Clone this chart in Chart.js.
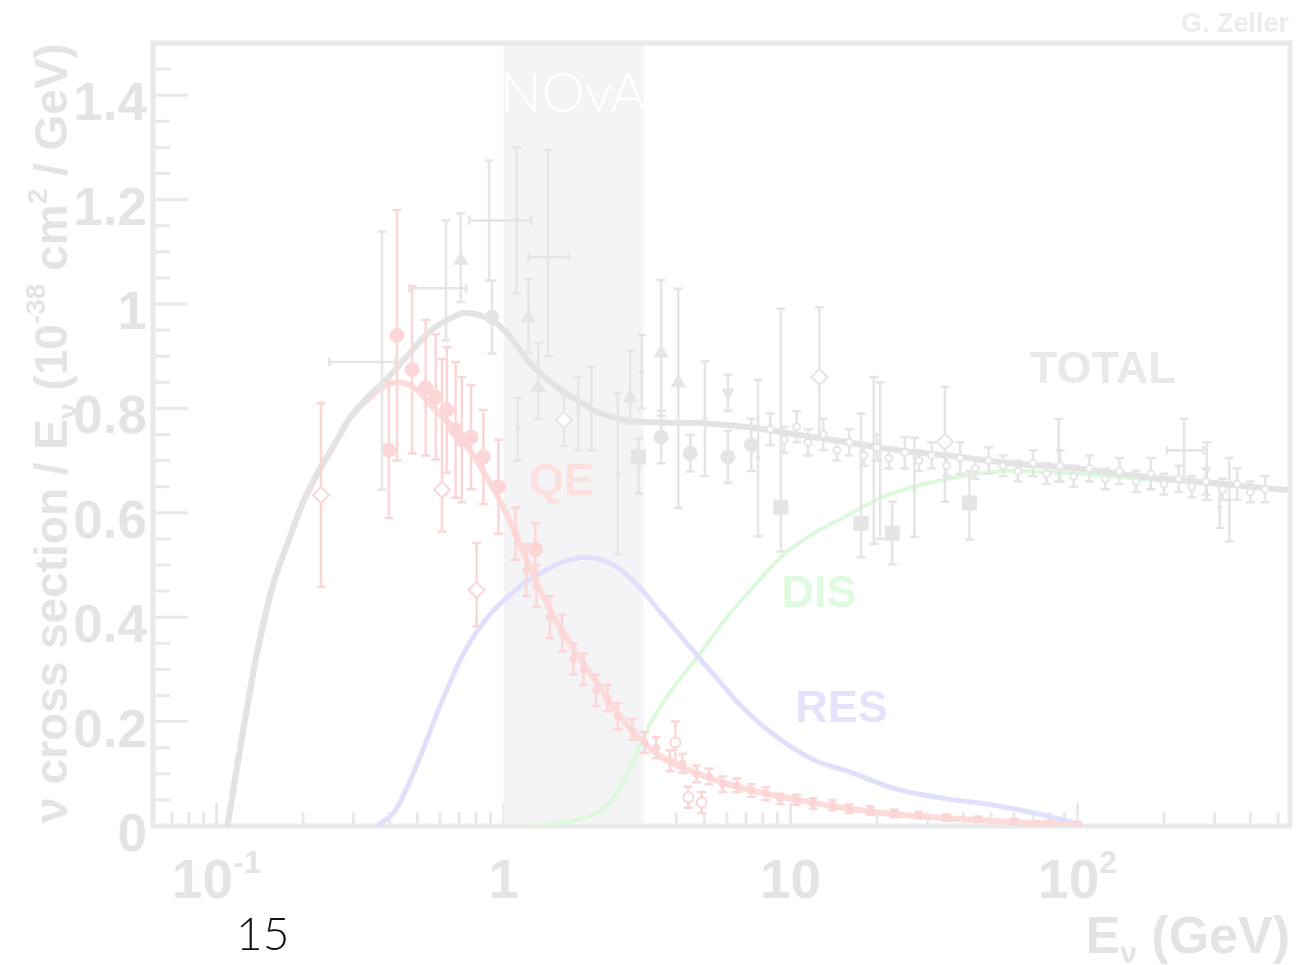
<!DOCTYPE html>
<html>
<head>
<meta charset="utf-8">
<script src="https://cdn.jsdelivr.net/npm/chart.js@4/dist/chart.umd.min.js"></script>
<style>
  html, body { margin: 0; padding: 0; background: #ffffff; }
  canvas { display: block; }
</style>
</head>
<body>
<canvas id="xsec" width="1301" height="965"></canvas>
<script>
// ---- Theory curves: sigma / E (1e-38 cm^2 / GeV) versus neutrino energy E (GeV)
const totalE = [0.109, 0.12, 0.137, 0.155, 0.179, 0.2, 0.227, 0.26, 0.29, 0.34, 0.39, 0.46, 0.56, 0.65, 0.74, 0.84, 0.96, 1.08, 1.22, 1.4, 1.64, 1.9, 2.14, 2.5, 2.78, 3.5, 4.76, 6, 8.1, 10, 13.8, 18, 23.6, 35, 58, 100, 170, 300, 540];
const totalV = [0, 0.14, 0.32, 0.45, 0.55, 0.62, 0.68, 0.735, 0.78, 0.825, 0.855, 0.90, 0.95, 0.972, 0.983, 0.977, 0.96, 0.93, 0.89, 0.858, 0.83, 0.808, 0.792, 0.781, 0.776, 0.773, 0.772, 0.768, 0.76, 0.752, 0.74, 0.73, 0.72, 0.71, 0.695, 0.685, 0.669, 0.657, 0.643];

const qeE = [0.109, 0.12, 0.137, 0.155, 0.179, 0.2, 0.227, 0.26, 0.29, 0.34, 0.39, 0.43, 0.5, 0.56, 0.65, 0.74, 0.87, 1.02, 1.19, 1.32, 1.5, 1.8, 2.14, 2.5, 2.95, 3.6, 4.76, 6.5, 10.6, 16, 23.6, 40, 70, 100];
const qeV = [0, 0.14, 0.32, 0.45, 0.55, 0.62, 0.68, 0.735, 0.78, 0.82, 0.845, 0.85, 0.835, 0.805, 0.77, 0.73, 0.67, 0.60, 0.515, 0.46, 0.40, 0.33, 0.27, 0.215, 0.17, 0.13, 0.10, 0.075, 0.05, 0.033, 0.022, 0.013, 0.006, 0.002];

const resE = [0.36, 0.42, 0.506, 0.6, 0.715, 0.85, 1.1, 1.4, 1.65, 1.93, 2.25, 2.57, 3.0, 3.54, 4.2, 4.87, 5.6, 6.56, 8.5, 12.1, 15.8, 23.6, 35, 45.6, 60, 80, 100];
const resV = [0, 0.03, 0.126, 0.23, 0.324, 0.39, 0.452, 0.49, 0.508, 0.515, 0.508, 0.49, 0.455, 0.408, 0.36, 0.318, 0.28, 0.236, 0.18, 0.126, 0.105, 0.07, 0.052, 0.044, 0.033, 0.018, 0.005];

const disE = [1.2, 1.5, 2.0, 2.3, 2.7, 3.2, 3.9, 4.65, 6, 7.1, 9.25, 12, 15.8, 20, 26, 34, 58, 100, 200, 540];
const disV = [0, 0.004, 0.02, 0.04, 0.1, 0.19, 0.265, 0.318, 0.40, 0.446, 0.515, 0.56, 0.595, 0.625, 0.648, 0.663, 0.68, 0.675, 0.662, 0.643];

// ---- Quasi-elastic measurements
const qeCircE = [0.398, 0.425, 0.48, 0.535, 0.58, 0.634, 0.68, 0.715, 0.77, 0.85, 0.96, 1.29];
const qeCircV = [0.72, 0.94, 0.874, 0.84, 0.822, 0.797, 0.759, 0.74, 0.745, 0.707, 0.65, 0.53];
const qeCircErr = [0.13, 0.24, 0.16, 0.13, 0.12, 0.12, 0.13, 0.12, 0.1, 0.09, 0.09, 0.05];

const qeDiaE = [0.231, 0.61, 0.805];
const qeDiaV = [0.634, 0.644, 0.452];
const qeDiaLo = [0.176, 0.08, 0.07];
const qeDiaHi = [0.176, 0.25, 0.09];

const qeSmallE = [1.1, 1.2, 1.3, 1.45, 1.6, 1.75, 1.9, 2.1, 2.3, 2.5, 2.8, 3.1, 3.4, 3.8, 4.2, 4.7, 5.2, 5.8, 6.5, 7.3, 8.2, 9.2, 10.5, 12, 14, 16, 19, 23, 28, 35, 45, 60, 80, 100];
const qeSmallV = [0.56, 0.49, 0.46, 0.40, 0.37, 0.32, 0.30, 0.26, 0.245, 0.21, 0.185, 0.16, 0.15, 0.125, 0.12, 0.10, 0.095, 0.08, 0.078, 0.068, 0.062, 0.052, 0.05, 0.043, 0.04, 0.033, 0.03, 0.024, 0.021, 0.016, 0.013, 0.009, 0.006, 0.003];
const qeSmallErr = [0.05, 0.05, 0.04, 0.04, 0.035, 0.03, 0.03, 0.03, 0.025, 0.025, 0.02, 0.02, 0.02, 0.02, 0.018, 0.016, 0.015, 0.015, 0.013, 0.012, 0.012, 0.01, 0.01, 0.01, 0.01, 0.008, 0.008, 0.007, 0.006, 0.006, 0.005, 0.005, 0.004, 0.004];

const qeOpenE = [3.97, 4.4, 4.9];
const qeOpenV = [0.16, 0.055, 0.045];
const qeOpenErr = [0.04, 0.02, 0.02];

// ---- Inclusive (total) measurements
const grayTriE = [0.709, 1.22, 1.32, 2.76, 3.54, 4.06];
const grayTriV = [1.084, 0.973, 0.84, 0.82, 0.906, 0.849];
const grayTriLo = [0.08, 0.065, 0.06, 0.05, 0.12, 0.24];
const grayTriHi = [0.09, 0.075, 0.085, 0.09, 0.14, 0.18];

const grayTriDownE = [6.05];
const grayTriDownV = [0.83];
const grayTriDownErr = [0.035];

const grayDotE = [0.91, 3.54, 4.47, 6.05, 7.3];
const grayDotV = [0.975, 0.745, 0.714, 0.707, 0.73];
const grayDotErr = [0.07, 0.05, 0.035, 0.05, 0.05];

const graySqE = [2.95, 9.25, 17.6, 22.6, 42];
const graySqV = [0.707, 0.611, 0.58, 0.561, 0.619];
const graySqLo = [0.07, 0.085, 0.065, 0.06, 0.07];
const graySqHi = [0.035, 0.38, 0.21, 0.06, 0.06];

const grayDiaE = [1.62, 12.6, 34.5];
const grayDiaV = [0.778, 0.86, 0.736];
const grayDiaLo = [0.05, 0.12, 0.115];
const grayDiaHi = [0.05, 0.134, 0.105];

const grayCrossE = [0.377, 0.63, 0.89, 1.43, 235];
const grayCrossV = [0.889, 1.03, 1.16, 1.09, 0.72];
const grayCrossLo = [0.245, 0.10, 0.115, 0.19, 0.06];
const grayCrossHi = [0.25, 0.13, 0.115, 0.205, 0.06];
const grayCrossELo = [0.247, 0.47, 0.76, 1.22, 205];
const grayCrossEHi = [0.42, 0.74, 1.25, 1.68, 275];

const grayBarE = [1.11, 1.12, 1.82, 2.02, 2.5, 3.03, 5.03, 7.7, 19.5, 20.5, 27, 86, 282, 313, 338];
const grayBarV = [1.16, 0.76, 0.79, 0.80, 0.675, 0.87, 0.78, 0.705, 0.70, 0.70, 0.644, 0.72, 0.68, 0.611, 0.625];
const grayBarLo = [0.14, 0.06, 0.07, 0.08, 0.155, 0.07, 0.11, 0.15, 0.16, 0.15, 0.09, 0.06, 0.055, 0.04, 0.08];
const grayBarHi = [0.14, 0.06, 0.07, 0.08, 0.155, 0.07, 0.11, 0.15, 0.16, 0.15, 0.1, 0.06, 0.055, 0.04, 0.08];

const grayDenseE = [8.5, 9.5, 10.5, 11.5, 13, 14.5, 16, 18, 20, 22, 25, 28, 31, 35, 39, 44, 49, 55, 62, 70, 78, 87, 97, 110, 125, 140, 160, 180, 200, 225, 250, 280, 320, 360, 400, 450];
const grayDenseV = [0.76, 0.74, 0.765, 0.735, 0.75, 0.72, 0.735, 0.71, 0.725, 0.705, 0.715, 0.70, 0.71, 0.69, 0.705, 0.685, 0.70, 0.69, 0.68, 0.695, 0.675, 0.69, 0.67, 0.685, 0.665, 0.68, 0.66, 0.675, 0.655, 0.665, 0.65, 0.66, 0.645, 0.655, 0.64, 0.645];
const grayDenseErr = [0.03, 0.025, 0.03, 0.025, 0.03, 0.02, 0.025, 0.02, 0.025, 0.02, 0.03, 0.02, 0.025, 0.02, 0.03, 0.02, 0.025, 0.02, 0.02, 0.025, 0.02, 0.03, 0.02, 0.025, 0.02, 0.025, 0.02, 0.03, 0.02, 0.025, 0.02, 0.025, 0.02, 0.03, 0.02, 0.025];

// ---- Axes
const yTicks = [0, 0.2, 0.4, 0.6, 0.8, 1, 1.2, 1.4];
const yTickLabels = ['0', '0.2', '0.4', '0.6', '0.8', '1', '1.2', '1.4'];
const xTicks = [0.1, 1, 10, 100];
const xTickBase = ['10', '1', '10', '10'];
const xTickExp = ['-1', '', '', '2'];
const novaRange = [1, 3];

// ---- Styling
const FRAME = '#e9e9e9';
const LABEL = '#e4e4e4';
const GRAY_LINE = '#e3e3e3';
const GRAY_PT = '#e5e5e5';
const RED_LINE = '#fcdbdb';
const RED_PT = '#fcd6d6';
const BLUE_LINE = '#e0e0fc';
const GREEN_LINE = '#dcf9dc';
const SANS = '"Liberation Sans", Arial, Helvetica, sans-serif';

function pts(E, V) { return E.map((e, i) => ({ x: e, y: V[i] })); }

function measurement(E, V, lo, hi, o) {
  return {
    data: pts(E, V),
    showLine: false,
    pointStyle: o.style || 'circle',
    pointRadius: o.r === undefined ? 6 : o.r,
    pointHoverRadius: o.r === undefined ? 6 : o.r,
    pointRotation: o.rot || 0,
    pointBackgroundColor: o.open ? '#ffffff' : o.color,
    pointBorderColor: o.color,
    pointBorderWidth: o.open ? 2 : 1,
    errLo: lo, errHi: hi, errELo: o.elo, errEHi: o.ehi,
    errColor: o.color
  };
}

function curve(E, V, color, width) {
  return {
    data: pts(E, V),
    showLine: true,
    borderColor: color,
    borderWidth: width,
    pointRadius: 0,
    pointHoverRadius: 0,
    cubicInterpolationMode: 'monotone',
    fill: false
  };
}

const datasets = [
  measurement(grayDenseE, grayDenseV, grayDenseErr, grayDenseErr, { color: GRAY_PT, r: 3.5, open: true }),
  measurement(grayTriE, grayTriV, grayTriLo, grayTriHi, { color: GRAY_PT, style: 'triangle', r: 8 }),
  measurement(grayTriDownE, grayTriDownV, grayTriDownErr, grayTriDownErr, { color: GRAY_PT, style: 'triangle', r: 7, rot: 180 }),
  measurement(grayDotE, grayDotV, grayDotErr, grayDotErr, { color: GRAY_PT, r: 7 }),
  measurement(graySqE, graySqV, graySqLo, graySqHi, { color: GRAY_PT, style: 'rect', r: 10 }),
  measurement(grayDiaE, grayDiaV, grayDiaLo, grayDiaHi, { color: GRAY_PT, style: 'rectRot', r: 8, open: true }),
  measurement(grayCrossE, grayCrossV, grayCrossLo, grayCrossHi, { color: GRAY_PT, r: 0, elo: grayCrossELo, ehi: grayCrossEHi }),
  measurement(grayBarE, grayBarV, grayBarLo, grayBarHi, { color: GRAY_PT, r: 2 }),
  measurement(qeSmallE, qeSmallV, qeSmallErr, qeSmallErr, { color: RED_PT, r: 3.5 }),
  measurement(qeOpenE, qeOpenV, qeOpenErr, qeOpenErr, { color: RED_PT, r: 5, open: true }),
  measurement(qeCircE, qeCircV, qeCircErr, qeCircErr, { color: RED_PT, r: 7 }),
  measurement(qeDiaE, qeDiaV, qeDiaLo, qeDiaHi, { color: RED_PT, style: 'rectRot', r: 8, open: true }),
  curve(totalE, totalV, GRAY_LINE, 6),
  curve(qeE, qeV, RED_LINE, 6),
  curve(resE, resV, BLUE_LINE, 5),
  curve(disE, disV, GREEN_LINE, 4)
];

// Vertical (and horizontal) error bars, painted beneath each dataset's markers
const errorBars = {
  id: 'errorBars',
  beforeDatasetDraw(chart, args) {
    const ds = chart.data.datasets[args.index];
    if (!ds.errLo) return;
    const { ctx, chartArea: a, scales: { x, y } } = chart;
    ctx.save();
    ctx.beginPath();
    ctx.rect(a.left, a.top, a.right - a.left, a.bottom - a.top);
    ctx.clip();
    ctx.strokeStyle = ds.errColor;
    ctx.lineWidth = 2.5;
    const cap = 4.5;
    ds.data.forEach((p, i) => {
      const px = x.getPixelForValue(p.x);
      const py = y.getPixelForValue(p.y);
      const top = y.getPixelForValue(p.y + ds.errHi[i]);
      const bot = y.getPixelForValue(p.y - ds.errLo[i]);
      ctx.beginPath();
      ctx.moveTo(px, top); ctx.lineTo(px, bot);
      ctx.moveTo(px - cap, top); ctx.lineTo(px + cap, top);
      ctx.moveTo(px - cap, bot); ctx.lineTo(px + cap, bot);
      if (ds.errELo) {
        const l = x.getPixelForValue(ds.errELo[i]);
        const r = x.getPixelForValue(ds.errEHi[i]);
        ctx.moveTo(l, py); ctx.lineTo(r, py);
        ctx.moveTo(l, py - cap); ctx.lineTo(l, py + cap);
        ctx.moveTo(r, py - cap); ctx.lineTo(r, py + cap);
      }
      ctx.stroke();
    });
    ctx.restore();
  }
};

function drawRich(ctx, parts, x0, y0, align) {
  let w = 0;
  parts.forEach(p => { ctx.font = p.f; p.w = ctx.measureText(p.t).width; w += p.w; });
  let cx = align === 'center' ? x0 - w / 2 : align === 'right' ? x0 - w : x0;
  ctx.textAlign = 'left';
  ctx.textBaseline = 'alphabetic';
  parts.forEach(p => { ctx.font = p.f; ctx.fillText(p.t, cx, y0 + (p.dy || 0)); cx += p.w; });
}

// Frame, inward ticks, the NOvA energy band and all axis text
const frameAxes = {
  id: 'frameAxes',
  beforeDatasetsDraw(chart) {
    const { ctx, chartArea: a, scales: { x, y } } = chart;
    ctx.save();
    ctx.strokeStyle = FRAME;
    ctx.lineWidth = 3;

    // y ticks: minor every 0.05, major every 0.2
    for (let k = 0; k * 0.05 < y.max; k++) {
      const py = y.getPixelForValue(k * 0.05);
      const len = k % 4 === 0 ? 35 : 17;
      ctx.beginPath(); ctx.moveTo(a.left, py); ctx.lineTo(a.left + len, py); ctx.stroke();
    }
    // x ticks: decades and their 2..9 multiples
    [0.01, 0.1, 1, 10, 100].forEach(d => {
      for (let m = 1; m <= 9; m++) {
        const v = d * m;
        if (v <= x.min || v >= x.max) continue;
        const px = x.getPixelForValue(v);
        const len = m === 1 ? 23 : 14;
        ctx.beginPath(); ctx.moveTo(px, a.bottom); ctx.lineTo(px, a.bottom - len); ctx.stroke();
      }
    });

    // NOvA band
    const b0 = x.getPixelForValue(novaRange[0]);
    const b1 = x.getPixelForValue(novaRange[1]);
    ctx.fillStyle = '#f4f4f6';
    ctx.fillRect(b0, a.top + 2, b1 - b0 + 3, a.bottom - a.top - 5);

    // frame
    ctx.lineWidth = 5;
    ctx.strokeRect(a.left, a.top, a.right - a.left, a.bottom - a.top);

    // band title
    ctx.fillStyle = '#ffffff';
    ctx.font = '300 55px Lato, "Open Sans", sans-serif';
    ctx.textAlign = 'center';
    ctx.textBaseline = 'alphabetic';
    const nx = x.getPixelForValue(Math.sqrt(novaRange[0] * novaRange[1]));
    ctx.fillText('NOvA', nx + 1, y.getPixelForValue(1.368));

    // y tick labels
    ctx.fillStyle = LABEL;
    ctx.font = 'bold 53px ' + SANS;
    ctx.textAlign = 'right';
    yTicks.forEach((v, i) => ctx.fillText(yTickLabels[i], a.left - 6, y.getPixelForValue(v) + 25));

    // x tick labels (powers of ten)
    xTicks.forEach((v, i) => {
      const parts = [{ t: xTickBase[i], f: 'bold 55px ' + SANS }];
      if (xTickExp[i]) parts.push({ t: xTickExp[i], f: 'bold 32px ' + SANS, dy: -25 });
      drawRich(ctx, parts, x.getPixelForValue(v), a.bottom + 72, 'center');
    });

    // x title
    drawRich(ctx, [
      { t: 'E', f: 'bold 52px ' + SANS },
      { t: 'ν', f: 'bold 30px ' + SANS, dy: 10 },
      { t: ' (GeV)', f: 'bold 52px ' + SANS }
    ], a.right, 953, 'right');

    // y title
    ctx.save();
    ctx.translate(67, (a.top + 823) / 2);
    ctx.rotate(-Math.PI / 2);
    drawRich(ctx, [
      { t: 'ν cross section / E', f: 'bold 46px ' + SANS },
      { t: 'ν', f: 'bold 28px ' + SANS, dy: 10 },
      { t: ' (10', f: 'bold 46px ' + SANS },
      { t: '-38', f: 'bold 28px ' + SANS, dy: -22 },
      { t: ' cm', f: 'bold 46px ' + SANS },
      { t: '2', f: 'bold 28px ' + SANS, dy: -20 },
      { t: ' / GeV)', f: 'bold 46px ' + SANS }
    ], 0, 0, 'center');
    ctx.restore();

    // author tag
    ctx.fillStyle = '#ececec';
    ctx.font = 'bold 27px ' + SANS;
    ctx.textAlign = 'right';
    ctx.fillText('G. Zeller', a.right - 1, 32);

    // slide number
    ctx.fillStyle = '#111111';
    ctx.font = '300 46px Lato, "Open Sans", sans-serif';
    ctx.textAlign = 'left';
    ctx.fillText('15', 236, 950);
    ctx.restore();
  },
  afterDatasetsDraw(chart) {
    const { ctx, scales: { x, y } } = chart;
    ctx.save();
    ctx.font = 'bold 45px ' + SANS;
    ctx.textAlign = 'left';
    ctx.textBaseline = 'alphabetic';
    const tag = (txt, e, v, c) => { ctx.fillStyle = c; ctx.fillText(txt, x.getPixelForValue(e), y.getPixelForValue(v)); };
    tag('TOTAL', 68.2, 0.849, '#e9e9e9');
    tag('QE', 1.226, 0.634, '#fce0e0');
    tag('DIS', 9.29, 0.4195, '#dffadf');
    tag('RES', 10.39, 0.199, '#e3e3fc');
    ctx.restore();
  }
};

new Chart(document.getElementById('xsec'), {
  type: 'scatter',
  data: { datasets },
  options: {
    responsive: false,
    animation: false,
    devicePixelRatio: 1,
    layout: { padding: { left: 153, right: 8, top: 43, bottom: 139 } },
    plugins: { legend: { display: false }, tooltip: { enabled: false } },
    scales: {
      x: { type: 'logarithmic', min: 0.06, max: 550, display: false },
      y: { type: 'linear', min: 0, max: 1.5, display: false }
    }
  },
  plugins: [errorBars, frameAxes]
});
</script>
</body>
</html>
